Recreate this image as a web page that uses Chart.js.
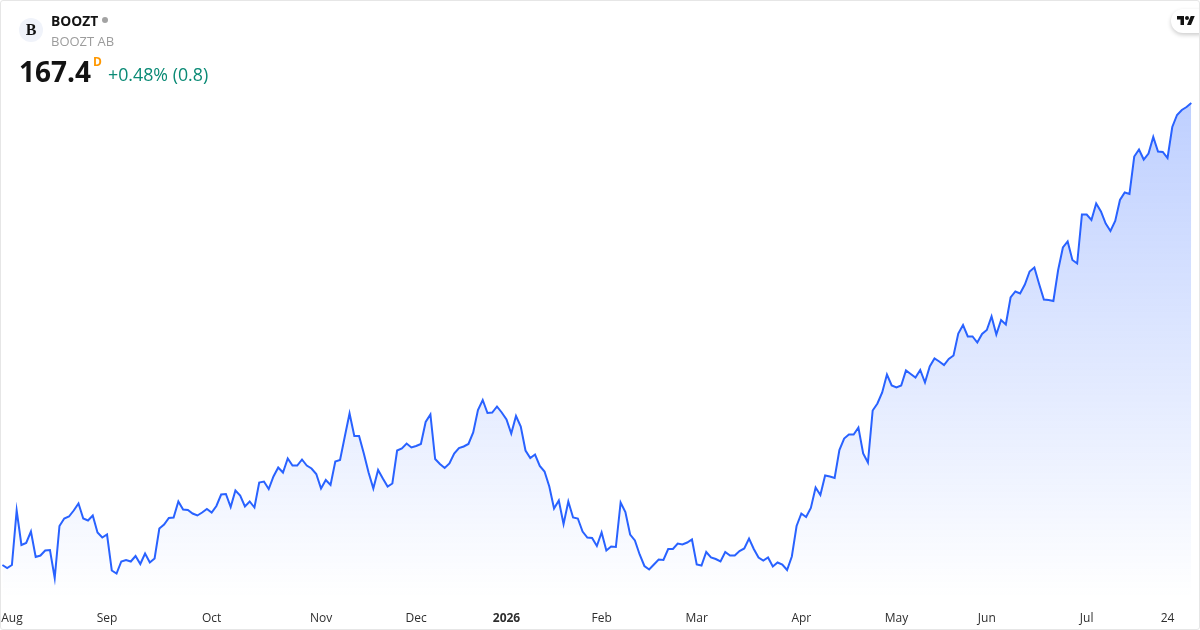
<!DOCTYPE html>
<html>
<head>
<meta charset="utf-8">
<title>BOOZT</title>
<script src="https://cdn.jsdelivr.net/npm/chart.js@4"></script>
<style>
  html, body { margin: 0; padding: 0; background: #fff; }
  #wrap { position: relative; width: 1200px; height: 630px; overflow: hidden; font-family: "Open Sans", sans-serif; }
  #chart_area { position: absolute; left: 0; top: 0; }
  #frame { position: absolute; left: 0; top: 0; width: 1198px; height: 628px; border: 1px solid #e6e6e6; border-radius: 3px; pointer-events: none; }
  #wrap div.txt { position: absolute; white-space: nowrap; }
  #logo { position: absolute; left: 19px; top: 18px; width: 24px; height: 24px; border-radius: 50%; background: #f0f3fa; color: #131313; font: bold 16px/24px "Liberation Serif", serif; text-align: center; }
  #dot { position: absolute; left: 102px; top: 17px; width: 6px; height: 6px; border-radius: 50%; background: #a3a3a3; }
  #tvbadge { position: absolute; left: 1171px; top: 9px; width: 40px; height: 24px; border-radius: 12px; background: #fff; box-shadow: 0 2px 4px rgba(0,0,0,0.2); }
  #tvbadge svg { position: absolute; left: 6px; top: 5px; }
</style>
</head>
<body>
<div id="wrap">
  <canvas id="chart_area" width="1200" height="630"></canvas>
  <div id="logo">B</div>
  <div class="txt" style="left:51px;top:12px;font-size:13.8px;line-height:18px;font-weight:700;color:#131313">BOOZT</div>
  <div id="dot"></div>
  <div class="txt" style="left:51px;top:32px;font-size:13px;line-height:18px;color:#9c9c9c">BOOZT AB</div>
  <div class="txt" style="left:19px;top:52px;font-size:28px;line-height:38px;font-weight:700;color:#131313">167.4</div>
  <div class="txt" style="left:93px;top:54px;font-size:12px;line-height:16px;font-weight:700;color:#ff9800">D</div>
  <div class="txt" style="left:108px;top:62px;font-size:17.8px;line-height:24px;color:#0a8a75">+0.48% (0.8)</div>
  <div id="tvbadge">
    <svg width="18" height="14" viewBox="0 0 36 28" fill="#131313"><path d="M14 22H7V11H0V4h14v18zM28 22h-8l7.5-18h8L28 22z"></path><circle cx="20" cy="8" r="4"></circle></svg>
  </div>
  <div id="frame"></div>
</div>
<script>
// closing prices, one per trading day
const closes = [
  75.0, 74.4, 75.0, 85.9, 79.0, 79.4, 81.7, 76.6, 76.9, 77.9,
  78.0, 72.4, 82.8, 84.3, 84.7, 85.9, 87.3, 84.3, 83.9, 84.9,
  81.5, 80.5, 81.1, 73.9, 73.3, 75.7, 76.0, 75.7, 76.8, 75.2,
  77.3, 75.5, 76.3, 82.3, 83.1, 84.4, 84.5, 87.7, 86.1, 86.0,
  85.3, 84.9, 85.5, 86.2, 85.5, 86.8, 89.1, 89.2, 86.6, 89.9,
  88.9, 86.7, 87.7, 86.5, 91.5, 91.7, 90.2, 92.7, 94.5, 93.5,
  96.3, 94.9, 94.9, 96.1, 94.9, 94.3, 93.2, 90.3, 92.0, 91.0,
  95.7, 96.0, 100.7, 105.3, 100.8, 100.8, 97.3, 93.5, 90.3, 94.0,
  92.3, 90.7, 91.3, 97.9, 98.3, 99.3, 98.5, 98.8, 99.2, 103.6,
  105.1, 96.2, 95.2, 94.4, 95.3, 97.3, 98.4, 98.7, 99.2, 101.5,
  106.0, 108.0, 105.4, 105.5, 106.7, 105.5, 104.1, 101.3, 104.8, 102.7,
  97.9, 96.4, 97.1, 94.8, 93.7, 90.7, 86.3, 87.9, 83.2, 87.7,
  84.5, 84.3, 81.7, 80.5, 80.4, 78.8, 81.5, 77.9, 78.7, 78.6,
  87.5, 85.6, 81.1, 79.9, 77.1, 74.8, 74.1, 75.1, 76.1, 76.0,
  78.2, 78.2, 79.3, 79.1, 79.5, 80.1, 75.1, 74.9, 77.6, 76.5,
  76.2, 75.7, 77.6, 76.9, 76.9, 77.8, 78.3, 80.3, 78.2, 76.5,
  75.9, 76.5, 74.7, 75.5, 75.1, 74.0, 76.7, 82.8, 85.3, 84.6,
  86.4, 90.5, 89.0, 92.9, 92.7, 92.4, 98.0, 100.3, 101.1, 101.1,
  102.5, 97.3, 95.5, 105.9, 107.3, 109.5, 113.1, 110.9, 110.5, 110.9,
  113.9, 113.2, 112.5, 114.0, 111.5, 114.7, 116.3, 115.7, 115.0, 116.2,
  116.9, 121.3, 123.0, 120.7, 120.7, 119.5, 121.2, 122.0, 124.7, 121.1,
  124.0, 123.1, 128.5, 129.7, 129.3, 131.1, 133.7, 134.5, 131.2, 128.1,
  128.0, 127.8, 134.0, 138.5, 139.7, 136.0, 135.3, 145.1, 145.1, 144.0,
  147.3, 145.7, 143.3, 141.8, 143.8, 148.0, 149.5, 149.2, 156.7, 158.1,
  156.1, 157.3, 160.6, 157.7, 157.6, 156.4, 162.6, 165.0, 166.0, 166.6,
  167.4
];

const tickLabels = ['Aug', 'Sep', 'Oct', 'Nov', 'Dec', '2026', 'Feb', 'Mar', 'Apr', 'May', 'Jun', 'Jul', '24'];
const tickIndex = [2, 22, 44, 67, 87, 106, 126, 146, 168, 188, 207, 228, 245];

const labels = closes.map((c, i) => {
  const t = tickIndex.indexOf(i);
  return t > -1 ? tickLabels[t] : '';
});

function areaFill(context) {
  const chart = context.chart;
  if (!chart.chartArea) return 'rgba(41,98,255,0.1)';
  const topY = chart.scales.y.getPixelForValue(Math.max(...closes));
  const grad = chart.ctx.createLinearGradient(0, topY, 0, chart.chartArea.bottom);
  grad.addColorStop(0, 'rgba(41,98,255,0.3)');
  grad.addColorStop(1, 'rgba(41,98,255,0)');
  return grad;
}

const ctx = document.getElementById('chart_area').getContext('2d');
const myChart = new Chart(ctx, {
  type: 'line',
  data: {
    labels: labels,
    datasets: [{
      data: closes,
      borderColor: '#2962ff',
      borderWidth: 2,
      backgroundColor: areaFill,
      fill: 'start',
      pointRadius: 0,
      tension: 0
    }]
  },
  options: {
    responsive: false,
    animation: false,
    devicePixelRatio: 1,
    layout: { padding: { left: 2.4, right: 8.7, top: 60, bottom: 0 } },
    plugins: { legend: { display: false }, tooltip: { enabled: false } },
    scales: {
      x: {
        offset: false,
        grid: { display: false },
        border: { display: false },
        afterBuildTicks: scale => { scale.ticks = tickIndex.map(i => ({ value: i })); },
        afterFit: scale => {
          scale.height = 32;
          scale.paddingLeft = 0;
          scale.paddingRight = 0;
        },
        ticks: {
          autoSkip: false,
          maxRotation: 0,
          padding: 5,
          color: '#2e2e2e',
          font: c => ({ family: '"Open Sans", sans-serif', size: 12, weight: c.tick && c.tick.label === '2026' ? 'bold' : 'normal' })
        }
      },
      y: { display: false, min: 68.4, max: 176 }
    }
  }
});
</script>
</body>
</html>
